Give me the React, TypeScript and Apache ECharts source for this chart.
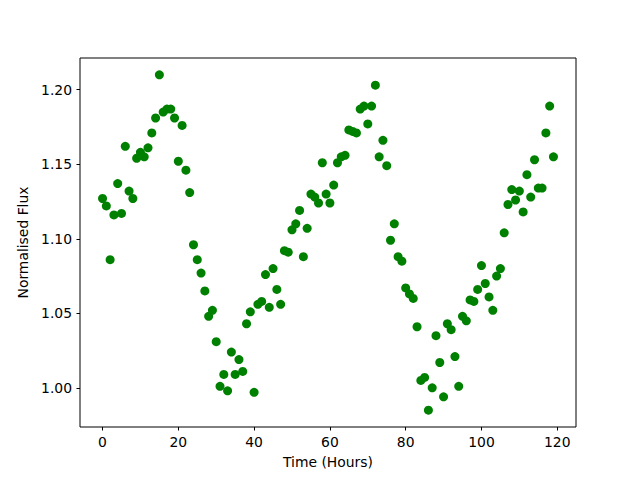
import React, { useEffect, useRef } from "react";
import * as echarts from "echarts";

// Normalised flux, one reading per hour starting at hour 0
const flux: number[] = [
  1.127, 1.122, 1.086, 1.116, 1.137, 1.117, 1.162, 1.132, 1.127, 1.154,
  1.158, 1.155, 1.161, 1.171, 1.181, 1.210, 1.185, 1.187, 1.187, 1.181,
  1.152, 1.176, 1.146, 1.131, 1.096, 1.086, 1.077, 1.065, 1.048, 1.052,
  1.031, 1.001, 1.009, 0.998, 1.024, 1.009, 1.019, 1.011, 1.043, 1.051,
  0.997, 1.056, 1.058, 1.076, 1.054, 1.080, 1.066, 1.056, 1.092, 1.091,
  1.106, 1.110, 1.119, 1.088, 1.107, 1.130, 1.128, 1.124, 1.151, 1.130,
  1.124, 1.136, 1.151, 1.155, 1.156, 1.173, 1.172, 1.171, 1.187, 1.189,
  1.177, 1.189, 1.203, 1.155, 1.166, 1.149, 1.099, 1.110, 1.088, 1.085,
  1.067, 1.063, 1.060, 1.041, 1.005, 1.007, 0.985, 1.000, 1.035, 1.017,
  0.994, 1.043, 1.039, 1.021, 1.001, 1.048, 1.045, 1.059, 1.058, 1.066,
  1.082, 1.070, 1.061, 1.052, 1.075, 1.080, 1.104, 1.123, 1.133, 1.126,
  1.132, 1.118, 1.143, 1.128, 1.153, 1.134, 1.134, 1.171, 1.189, 1.155,
];

const xTicks: number[] = [0, 20, 40, 60, 80, 100, 120];
const yTicks: number[] = [1.0, 1.05, 1.1, 1.15, 1.2];

const FONT = "DejaVu Sans";

export default function App() {
  const ref = useRef<HTMLDivElement>(null);
  useEffect(() => {
    if (!ref.current) return;
    const chart = echarts.init(ref.current, undefined, { renderer: "svg" });
    const n = flux.length;
    const xMin = -0.05 * (n - 1);
    const xMax = (n - 1) * 1.05;
    const fMin = Math.min(...flux);
    const fMax = Math.max(...flux);
    const pad = (fMax - fMin) * 0.05;
    chart.setOption({
      animation: false,
      backgroundColor: "#ffffff",
      textStyle: { fontFamily: FONT },
      grid: {
        left: 80,
        right: 64,
        top: 58,
        bottom: 53,
        show: true,
        borderColor: "#000000",
        borderWidth: 1,
        backgroundColor: "transparent",
      },
      xAxis: {
        type: "value",
        min: xMin,
        max: xMax,
        name: "Time (Hours)",
        nameLocation: "middle",
        nameGap: 28,
        nameTextStyle: { color: "#000", fontSize: 13.9, fontFamily: FONT, verticalAlign: "top" },
        axisLine: { show: false, onZero: false },
        axisTick: {
          show: true,
          length: 3.5,
          inside: false,
          customValues: xTicks,
          lineStyle: { color: "#000", width: 1 },
        },
        axisLabel: {
          customValues: xTicks,
          color: "#000",
          fontSize: 13.9,
          fontFamily: FONT,
          margin: 8,
          formatter: (v: number) => String(Math.round(v)),
        },
        splitLine: { show: false },
      },
      yAxis: {
        type: "value",
        min: fMin - pad,
        max: fMax + pad,
        name: "Normalised Flux",
        nameLocation: "middle",
        nameGap: 47,
        nameRotate: 90,
        nameTextStyle: { color: "#000", fontSize: 13.9, fontFamily: FONT },
        axisLine: { show: false, onZero: false },
        axisTick: {
          show: true,
          length: 3.5,
          inside: false,
          customValues: yTicks,
          lineStyle: { color: "#000", width: 1 },
        },
        axisLabel: {
          customValues: yTicks,
          color: "#000",
          fontSize: 13.9,
          fontFamily: FONT,
          margin: 8,
          formatter: (v: number) => v.toFixed(2),
        },
        splitLine: { show: false },
      },
      series: [
        {
          type: "scatter",
          data: flux.map((f, i) => [i, f]),
          symbol: "circle",
          symbolSize: 9,
          itemStyle: { color: "#008000", opacity: 1 },
          emphasis: { disabled: true },
        },
      ],
    });
    return () => chart.dispose();
  }, []);
  return <div ref={ref} style={{ width: 640, height: 480, position: "absolute", left: 0, top: 0 }} />;
}
